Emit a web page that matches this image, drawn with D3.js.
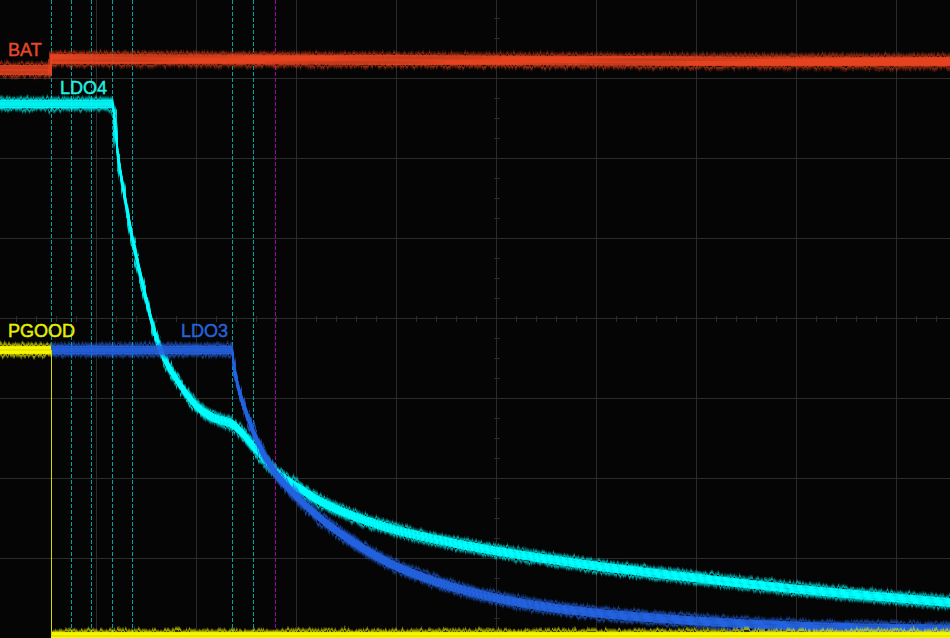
<!DOCTYPE html>
<html>
<head>
<meta charset="utf-8">
<script src="https://cdn.jsdelivr.net/npm/d3@7/dist/d3.min.js"></script>
<style>
  html, body { margin: 0; padding: 0; background: #050505; overflow: hidden; }
  svg { display: block; }
</style>
</head>
<body>
<svg id="chart" width="950" height="638"></svg>
<script>
// ---- Data (time and voltage in screen divisions) ----
const xDivisions = [-5, -4, -3, -2, -1, 0, 1, 2, 3, 4, 5];
const yDivisions = [-4, -3, -2, -1, 0, 1, 2, 3, 4];
const cyanCursors = [-4.45, -4.25, -4.05, -3.84, -3.64, -2.64, -2.43];
const magentaCursors = [-2.215];

const batT = [-5, -4.45, -4.45, -1, 2, 4.6];
const batV = [3.10, 3.10, 3.24, 3.225, 3.21, 3.205];

const ldo4T = [-5, -3.84, -3.777, -3.71, -3.637, -3.548, -3.453, -3.39, -3.33, -3.26, -3.19, -3.09, -2.96, -2.86,
               -2.76, -2.64, -2.53, -2.43, -2.32, -2.22, -2.11, -1.99, -1.76, -1.43, -1.0, -0.43, 0, 0.44, 1.0,
               2.01, 3.0, 4.0, 4.6];
const ldo4V = [2.675, 2.675, 2.0, 1.5, 1.0, 0.5, 0, -0.275, -0.475, -0.64, -0.775, -0.96, -1.14, -1.225,
               -1.275, -1.325, -1.45, -1.60, -1.76, -1.90, -2.01, -2.11, -2.29, -2.475, -2.65, -2.8125, -2.9125, -3.0, -3.10,
               -3.25, -3.3875, -3.5, -3.5625];

const ldo3T = [-4.45, -2.64, -2.62, -2.59, -2.56, -2.50, -2.43, -2.33, -2.22, -1.99, -1.76, -1.43, -1.09,
               -0.56, 0, 0.44, 1.0, 2.01, 3.0, 4.6];
const ldo3V = [-0.4, -0.4, -0.6125, -0.80, -0.95, -1.175, -1.4125, -1.6875, -1.9125, -2.2375, -2.5, -2.80, -3.05,
               -3.3125, -3.50, -3.60, -3.6875, -3.7875, -3.85, -3.8875];

const pgoodT = [-5, -4.45, -4.45, 5];
const pgoodV = [-0.4, -0.4, -3.975, -3.975];

const labels = ["BAT", "LDO4", "PGOOD", "LDO3"];

// ---- Setup ----
const W = 950, H = 638;
const svg = d3.select("#chart");
const x = d3.scaleLinear().domain([-5, 5]).range([-4, 996]);
const y = d3.scaleLinear().domain([4, -4]).range([-2, 638]);

const defs = svg.append("defs");
const f = defs.append("filter").attr("id", "fuzz")
  .attr("filterUnits", "userSpaceOnUse").attr("x", -20).attr("y", -20).attr("width", W + 40).attr("height", H + 40);
f.append("feTurbulence").attr("type", "fractalNoise").attr("baseFrequency", "0.45 0.02")
  .attr("numOctaves", 2).attr("seed", 3).attr("result", "noise");
f.append("feDisplacementMap").attr("in", "SourceGraphic").attr("in2", "noise")
  .attr("scale", 7).attr("xChannelSelector", "A").attr("yChannelSelector", "R");

svg.append("rect").attr("width", W).attr("height", H).attr("fill", "#050505");

// ---- Grid ----
const grid = svg.append("g").attr("stroke", "#2b2b2b").attr("stroke-width", 1).attr("shape-rendering", "crispEdges");
grid.selectAll("line.v").data(xDivisions).join("line")
  .attr("class", "v")
  .attr("x1", d => x(d) + 0.5).attr("x2", d => x(d) + 0.5).attr("y1", 0).attr("y2", H);
grid.selectAll("line.h").data(yDivisions).join("line")
  .attr("class", "h")
  .attr("y1", d => y(d) + 0.5).attr("y2", d => y(d) + 0.5).attr("x1", 0).attr("x2", W);

// minor ticks on centre axes
const xMinor = d3.range(-5, 5.0001, 0.2).map(v => Math.round(v * 10) / 10);
const yMinor = d3.range(-4, 4.0001, 0.25);
grid.selectAll("line.xt").data(xMinor).join("line")
  .attr("class", "xt")
  .attr("x1", d => Math.round(x(d)) + 0.5).attr("x2", d => Math.round(x(d)) + 0.5)
  .attr("y1", y(0) - 2).attr("y2", y(0) + 4);
grid.selectAll("line.yt").data(yMinor).join("line")
  .attr("class", "yt")
  .attr("y1", d => Math.round(y(d)) + 0.5).attr("y2", d => Math.round(y(d)) + 0.5)
  .attr("x1", x(0) - 2).attr("x2", x(0) + 4);

// ---- Cursors ----
const cur = svg.append("g").attr("stroke-width", 1).attr("stroke-dasharray", "4,2").attr("shape-rendering", "crispEdges");
cur.selectAll("line.c").data(cyanCursors).join("line")
  .attr("class", "c")
  .attr("x1", d => Math.round(x(d)) + 0.5).attr("x2", d => Math.round(x(d)) + 0.5)
  .attr("y1", 0).attr("y2", H).attr("stroke", "#00a3a3");
cur.selectAll("line.m").data(magentaCursors).join("line")
  .attr("class", "m")
  .attr("x1", d => Math.round(x(d)) + 0.5).attr("x2", d => Math.round(x(d)) + 0.5)
  .attr("y1", 0).attr("y2", H).attr("stroke", "#a000a8");

// ---- Traces ----
function zip(ts, vs) { return ts.map((t, i) => [t, vs[i]]); }
const lineLin = d3.line().x(d => x(d[0])).y(d => y(d[1])).curve(d3.curveLinear);
const lineSmooth = d3.line().x(d => x(d[0])).y(d => y(d[1])).curve(d3.curveMonotoneX);

const edge = [
  { d: -8, op: 0.14 }, { d: 8, op: 0.14 },
  { d: -7, op: 0.25 }, { d: 7, op: 0.25 },
  { d: -6, op: 0.42 }, { d: 6, op: 0.42 },
  { d: -5, op: 0.6 }, { d: 5, op: 0.6 }
];
const core = [
  { d: -4, op: 0.9 }, { d: 4, op: 0.9 },
  { d: -3, op: 1 }, { d: 3, op: 1 }, { d: -2, op: 1 }, { d: 2, op: 1 },
  { d: -1, op: 1 }, { d: 1, op: 1 }, { d: 0, op: 1 }
];

function drawBand(parent, dstr, color, width, k) {
  const ge = parent.append("g").attr("filter", "url(#fuzz)");
  edge.forEach(b => {
    ge.append("path").attr("d", dstr)
      .attr("transform", `translate(0,${b.d * k})`)
      .attr("fill", "none").attr("stroke", color).attr("stroke-width", width)
      .attr("stroke-opacity", b.op).attr("stroke-linejoin", "round");
  });
  const gc = parent.append("g");
  core.forEach(b => {
    gc.append("path").attr("d", dstr)
      .attr("transform", `translate(0,${b.d * k})`)
      .attr("fill", "none").attr("stroke", color).attr("stroke-width", width)
      .attr("stroke-opacity", b.op).attr("stroke-linejoin", "round");
  });
}

drawBand(svg.append("g"), lineLin(zip(batT, batV)), "#e5431f", 1.4, 1.05);
drawBand(svg.append("g"), lineSmooth(zip(ldo4T, ldo4V)), "#00ffff", 1.4, 0.95);
drawBand(svg.append("g"), lineSmooth(zip(ldo3T, ldo3V)), "#2463e0", 1.4, 0.95);

// PGOOD: flat bands + thin falling edge
const pg = zip(pgoodT, pgoodV);
const pgG = svg.append("g");
drawBand(pgG, lineLin([pg[0], pg[1]]), "#f6f600", 1.5, 0.9);
drawBand(pgG, lineLin([pg[2], pg[3]]), "#f6f600", 1.5, 0.9);
pgG.append("path")
  .attr("d", lineLin([pg[1], pg[2]]))
  .attr("fill", "none").attr("stroke", "#d8d800").attr("stroke-width", 1).attr("shape-rendering", "crispEdges")
  .attr("transform", "translate(0.5,0)");

// ---- Labels ----
const labelPos = [
  { t: -4.88, v: 3.275, c: "#e4482a" },
  { t: -4.36, v: 2.8, c: "#22f2e0" },
  { t: -4.88, v: -0.237, c: "#e6f000" },
  { t: -3.15, v: -0.237, c: "#2563dc" }
];
svg.append("g").selectAll("text").data(labels).join("text")
  .attr("x", (d, i) => x(labelPos[i].t))
  .attr("y", (d, i) => y(labelPos[i].v))
  .attr("fill", (d, i) => labelPos[i].c)
  .attr("stroke", (d, i) => labelPos[i].c)
  .attr("stroke-width", 0.45)
  .attr("font-family", "'Liberation Sans', Arial, sans-serif")
  .attr("font-size", 18)
  .text(d => d);
</script>
</body>
</html>
